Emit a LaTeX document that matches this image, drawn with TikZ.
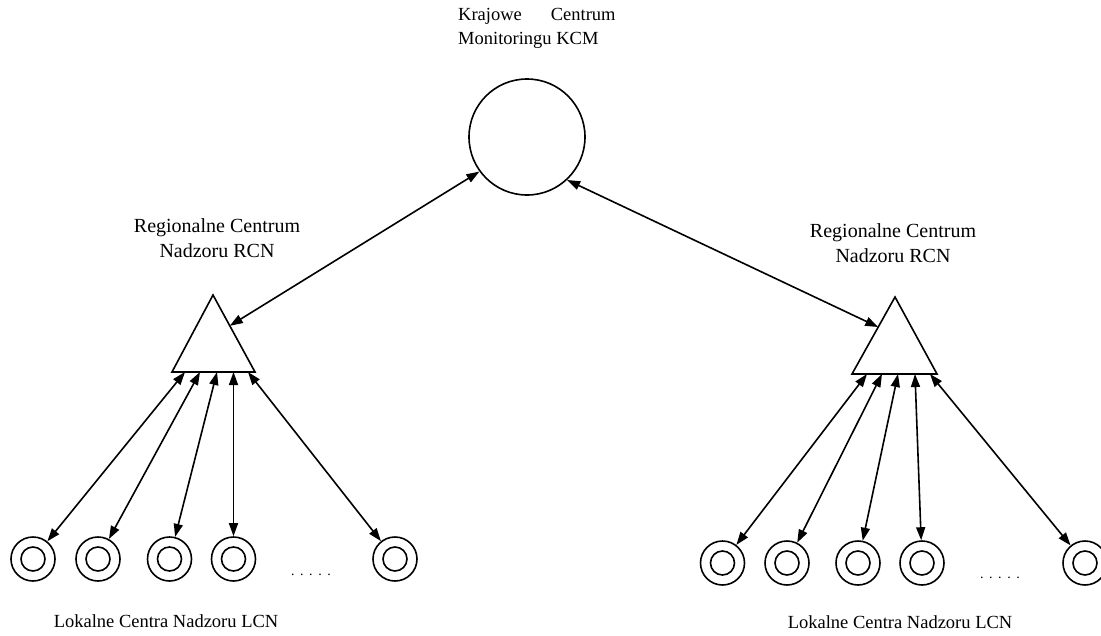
\documentclass[tikz,border=0pt]{standalone}
\usepackage{fontspec}
\setmainfont{Liberation Serif}
\usetikzlibrary{arrows.meta,calc}
\begin{document}
\begin{tikzpicture}[x=1pt,y=-1pt,
  conn/.style={line width=1.6pt,{Triangle[length=13pt,width=9pt]}-{Triangle[length=13pt,width=9pt]}},
  lcn/.style={circle,draw,line width=1.6pt,minimum size=44pt,inner sep=0pt},
  inner/.style={circle,draw,line width=1.6pt,minimum size=24pt,inner sep=0pt},
  tri/.style={line width=1.6pt,line join=miter},
  lbl/.style={font=\fontsize{18.5}{24}\selectfont,inner sep=0pt},
  rlbl/.style={font=\fontsize{20}{25}\selectfont,inner sep=0pt,align=center},
  dots/.style={font=\fontsize{14}{14}\selectfont\addfontfeature{LetterSpace=40},inner sep=0pt}]
\useasboundingbox (0,0) rectangle (1101,635);
\fill[white] (0,0) rectangle (1101,635);

% KCM
\node[circle,draw,line width=1.6pt,minimum size=116pt,inner sep=0pt] (kcm) at (527,137) {};
\node[lbl,align=left,anchor=west] (kcmt) at (458,28) {Krajowe\hspace{29pt}Centrum\\Monitoringu KCM};

% left RCN triangle
\coordinate (La) at (213,295);
\coordinate (Lb) at (172,372);
\coordinate (Lc) at (255,372);
\draw[tri] (La) -- (Lb) -- (Lc) -- cycle;
\node[rlbl] (lrt) at (217,238) {Regionalne Centrum\\Nadzoru RCN};
\coordinate (Ls) at ($(La)!0.4!(Lc)$);

% right RCN triangle
\coordinate (Ra) at (895,297);
\coordinate (Rb) at (852,374);
\coordinate (Rc) at (937,374);
\draw[tri] (Ra) -- (Rb) -- (Rc) -- cycle;
\node[rlbl] (rrt) at (893,243) {Regionalne Centrum\\Nadzoru RCN};
\coordinate (Rs) at ($(Ra)!0.39!(Rb)$);

\draw[conn] (kcm.216) -- (Ls);
\draw[conn] (kcm.313) -- (Rs);

% left local centres
\foreach \i/\x in {1/33,2/98,3/169.5,4/233.5,5/395}{
  \node[lcn] (l\i) at (\x,559) {};
  \node[inner] (li\i) at (\x,559) {};
}
\foreach \i/\x in {1/185,2/200,3/217,4/233.5,5/248}{
  \coordinate (lt\i) at (\x,372);
  \draw[conn] (lt\i) -- (l\i);
}
\node[dots] (ldots) at (311,575) {.....};
\node[lbl,anchor=base] (llcn) at (166,627) {Lokalne Centra Nadzoru LCN};

% right local centres
\foreach \i/\x in {1/722.5,2/787,3/858,4/922,5/1085}{
  \node[lcn] (r\i) at (\x,563) {};
  \node[inner] (ri\i) at (\x,563) {};
}
\foreach \i/\x in {1/867,2/882,3/898,4/915,5/930}{
  \coordinate (rt\i) at (\x,374);
  \draw[conn] (rt\i) -- (r\i);
}
\node[dots] (rdots) at (1000,578) {.....};
\node[lbl,anchor=base] (rlcn) at (900,628) {Lokalne Centra Nadzoru LCN};
\end{tikzpicture}
\end{document}
